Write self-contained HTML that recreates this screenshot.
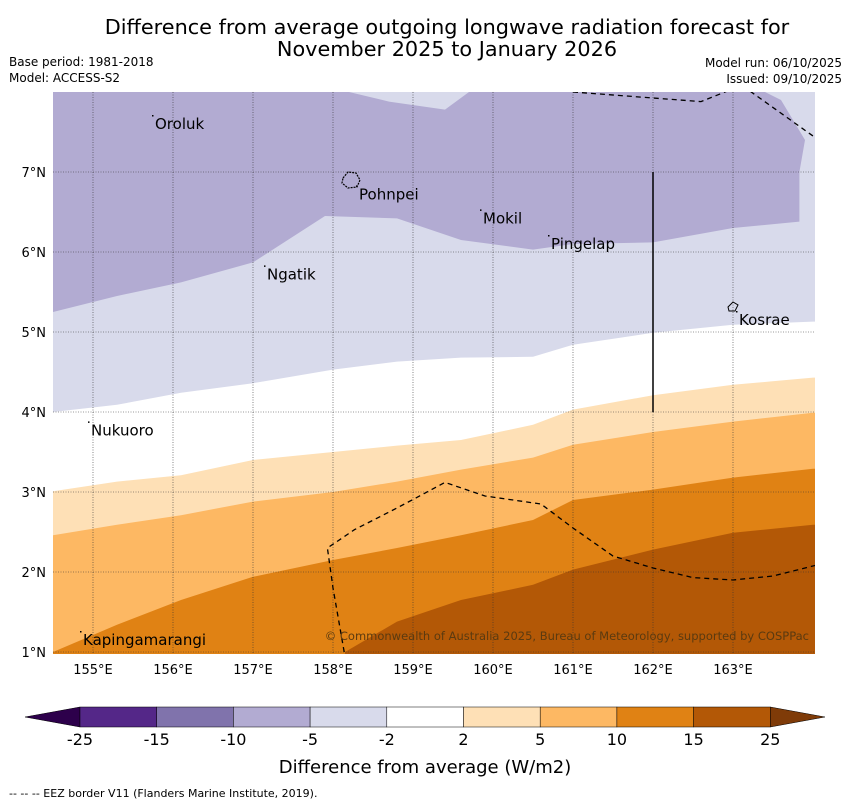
<!DOCTYPE html>
<html><head><meta charset="utf-8"><style>
body{margin:0;background:#fff;font-family:"DejaVu Sans","Liberation Sans",sans-serif;}
svg text{font-family:"DejaVu Sans","Liberation Sans",sans-serif;}
</style></head><body>
<svg id="chart" width="850" height="804" viewBox="0 0 850 804" xmlns="http://www.w3.org/2000/svg">
<rect width="850" height="804" fill="#fff"/>
<text x="447" y="34" font-size="20.8" text-anchor="middle">Difference from average outgoing longwave radiation forecast for</text>
<text x="447" y="56" font-size="20.8" text-anchor="middle">November 2025 to January 2026</text>
<text x="9" y="66" font-size="12">Base period: 1981-2018</text>
<text x="9" y="82" font-size="12">Model: ACCESS-S2</text>
<text x="842" y="67" font-size="12" text-anchor="end">Model run: 06/10/2025</text>
<text x="842" y="83" font-size="12" text-anchor="end">Issued: 09/10/2025</text>
<defs><clipPath id="mapclip"><rect x="53" y="92" width="762" height="562"/></clipPath></defs>
<g id="map" clip-path="url(#mapclip)"></g>
<g id="axes"></g>
<g id="cbar"></g>
<text x="425" y="773" font-size="18" text-anchor="middle">Difference from average (W/m2)</text>
<text x="9" y="797" font-size="11">--  --  -- EEZ border V11 (Flanders Marine Institute, 2019).</text>
</svg>
<script>
const lons=[154.5,155.3,156.1,157,158,158.8,159.6,160.5,161,162,163,164];
const bM5=[4.0,4.09,4.24,4.36,4.53,4.63,4.68,4.69,4.84,4.99,5.09,5.13];
const bM2=[3.01,3.13,3.21,3.4,3.5,3.58,3.65,3.84,4.03,4.21,4.34,4.43];
const bP2=[2.46,2.59,2.71,2.88,3.0,3.13,3.28,3.43,3.59,3.75,3.88,3.99];
const bP10=[1.0,1.34,1.65,1.94,2.15,2.3,2.46,2.65,2.9,3.03,3.18,3.29];
const lons15=[158.15,158.8,159.6,160.5,161,162,163,164];
const bP15=[1.0,1.38,1.65,1.84,2.03,2.28,2.49,2.59];
const darkLon=[154.5,155.3,156.1,157,157.9,158.8,159.6,160.5,161,162,163,163.83,163.83,163.9,163.6,163.4,159.7,159.4,158.7,158.2,154.5];
const darkLat=[5.25,5.45,5.62,5.87,6.45,6.42,6.15,6.03,6.1,6.12,6.3,6.38,7.0,7.4,7.9,8.0,8.0,7.78,7.88,8.0,8.0];
const eezLon=[158.14,158.0,157.93,158.27,158.8,159.4,159.9,160.6,161,161.5,162,162.5,163,163.5,164.1];
const eezLat=[1.0,1.8,2.3,2.53,2.8,3.12,2.95,2.85,2.55,2.2,2.05,1.93,1.9,1.95,2.1];
const eez2Lon=[161,162.6,162.95,163.2,164];
const eez2Lat=[8.0,7.88,8.02,8.02,7.45];
const places=["Oroluk","Pohnpei","Mokil","Pingelap","Ngatik","Kosrae","Nukuoro","Kapingamarangi"];
const placeLon=[155.75,158.3,159.85,160.7,157.15,163.05,154.95,154.85];
const placeLat=[7.7,6.82,6.52,6.2,5.82,5.25,3.87,1.25];
const xTicks=[155,156,157,158,159,160,161,162,163];
const yTicks=[1,2,3,4,5,6,7];
const cbLabels=["-25","-15","-10","-5","-2","2","5","10","15","25"];
const cbColors=["#542788","#8073ac","#b2abd2","#d8daeb","#ffffff","#fee0b6","#fdb863","#e08214","#b35806"];
const NS="http://www.w3.org/2000/svg";
const X=lon=>93+(lon-155)*80, Y=lat=>172+(7-lat)*80;
function mk(tag,attrs,parent){const e=document.createElementNS(NS,tag);for(const k in attrs)e.setAttribute(k,attrs[k]);parent.appendChild(e);return e;}
const map=document.getElementById('map'),axes=document.getElementById('axes'),cbar=document.getElementById('cbar');
function below(lo,la,col,name){let d='M'+X(lo[0])+','+Y(la[0]);for(let i=1;i<lo.length;i++)d+='L'+X(lo[i])+','+Y(la[i]);d+='L'+X(lo[lo.length-1]+0.5)+','+Y(la[la.length-1])+'L'+X(lo[lo.length-1]+0.5)+',700L'+X(lo[0])+',700Z';const p=mk('path',{d:d,fill:col},map);}
const bg=mk('rect',{x:53,y:92,width:762,height:562,fill:'#d8daeb'},map);

let d='';for(let i=0;i<darkLon.length;i++)d+=(i?'L':'M')+X(darkLon[i])+','+Y(darkLat[i]);
const dk=mk('path',{d:d+'Z',fill:'#b2abd2'},map);
below(lons,bM5,'#ffffff','band-neutral');
below(lons,bM2,'#fee0b6','band-plus2');
below(lons,bP2,'#fdb863','band-plus5');
below(lons,bP10,'#e08214','band-plus10');
below(lons15,bP15,'#b35806','band-plus15');
for(const t of xTicks){const l=mk('line',{x1:X(t),x2:X(t),y1:92,y2:654,stroke:'#333','stroke-width':0.6,'stroke-dasharray':'1,1.5'},map);
const tx=mk('text',{x:X(t),y:674,'font-size':13,'text-anchor':'middle'},axes);tx.textContent=t+'°E';}
for(const t of yTicks){const l=mk('line',{x1:53,x2:815,y1:Y(t),y2:Y(t),stroke:'#333','stroke-width':0.6,'stroke-dasharray':'1,1.5'},map);
const tx=mk('text',{x:46,y:Y(t)+5,'font-size':13,'text-anchor':'end'},axes);tx.textContent=t+'°N';}
function pl(lo,la,name){let d='';for(let i=0;i<lo.length;i++)d+=(i?'L':'M')+X(lo[i])+','+Y(la[i]);const p=mk('path',{d:d,fill:'none',stroke:'#000','stroke-width':1.3,'stroke-dasharray':'5,4'},map);}
pl(eezLon,eezLat,'eez-border-south');pl(eez2Lon,eez2Lat,'eez-border-north');
const sl=mk('line',{x1:X(162),x2:X(162),y1:Y(7),y2:Y(4),stroke:'#000','stroke-width':1.5},map);
const po=mk('path',{d:'M343,178 L348,172 L356,173 L360,180 L357,187 L348,188 L342,183Z',fill:'none',stroke:'#000','stroke-width':1.2,'stroke-dasharray':'2,1'},map);
const ko=mk('path',{d:'M728,307 L733,302 L738,305 L735,311 L729,311Z',fill:'none',stroke:'#000','stroke-width':1},map);
for(let i=0;i<places.length;i++){const tx=mk('text',{x:X(placeLon[i])+2,y:Y(placeLat[i])+13,'font-size':15},map);tx.textContent=places[i];
const dt=mk('rect',{x:X(placeLon[i])-1,y:Y(placeLat[i])-1,width:1.5,height:1.5,fill:'#000'},map);}
const cp=mk('text',{x:809,y:640,'font-size':11.5,'text-anchor':'end',fill:'#5a3a10'},map);cp.textContent='© Commonwealth of Australia 2025, Bureau of Meteorology, supported by COSPPac';
const cx0=80,cw=76.7,cy=707,ch=20;
const lt=mk('path',{d:`M${cx0},${cy} L25,${cy+ch/2} L${cx0},${cy+ch}Z`,fill:'#2d004b',stroke:'#000','stroke-width':0.5},cbar);
const rx=cx0+cw*cbColors.length;
const rt=mk('path',{d:`M${rx},${cy} L825,${cy+ch/2} L${rx},${cy+ch}Z`,fill:'#7f3b08',stroke:'#000','stroke-width':0.5},cbar);
cbColors.forEach((c,i)=>{const r=mk('rect',{x:cx0+i*cw,y:cy,width:cw,height:ch,fill:c,stroke:'#000','stroke-width':0.5},cbar);});
cbLabels.forEach((s,i)=>{const t=mk('text',{x:cx0+i*cw,y:745,'font-size':16,'text-anchor':'middle'},cbar);t.textContent=s;});
</script>
</body></html>
